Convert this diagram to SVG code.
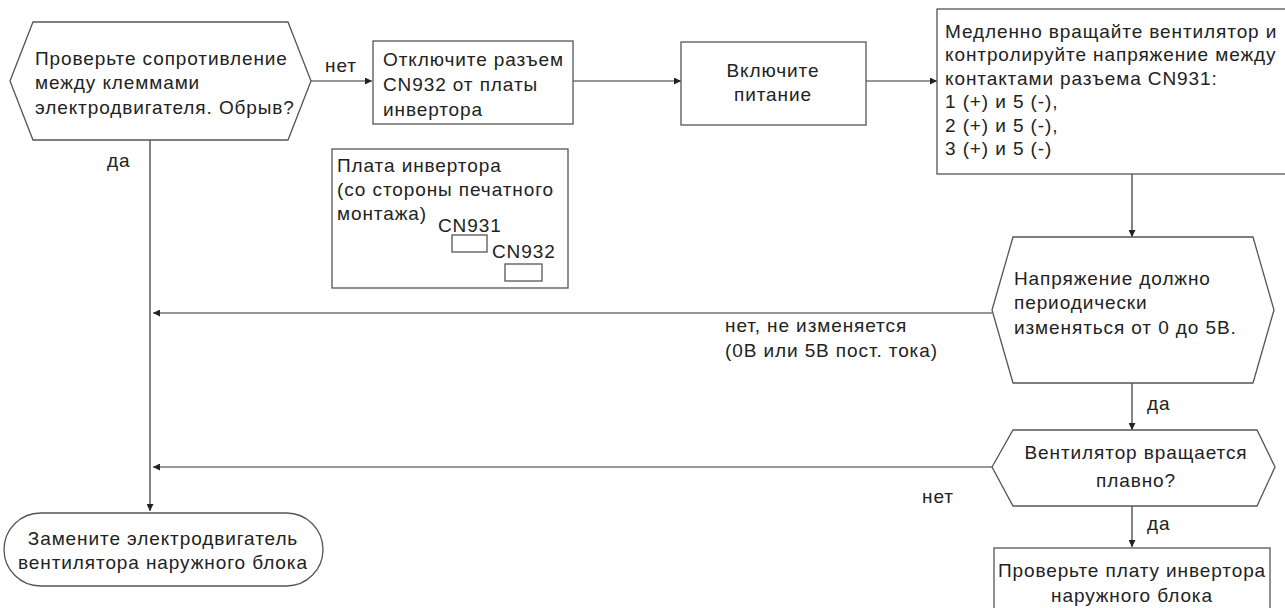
<svg xmlns="http://www.w3.org/2000/svg" width="1285" height="608" viewBox="0 0 1285 608">
<style>
text{font-family:"Liberation Sans",Arial,sans-serif;font-size:19px;letter-spacing:0.9px;fill:#222}
.s{fill:#fff;stroke:#555;stroke-width:1.3}
.c{fill:none;stroke:#333;stroke-width:1.2}
.m{text-anchor:middle}
</style>
<defs>
<marker id="a" viewBox="0 0 10 10" refX="10" refY="5" markerWidth="9" markerHeight="7" markerUnits="userSpaceOnUse" orient="auto"><path d="M0,0L10,5L0,10z" fill="#222"/></marker>
</defs>
<rect width="1285" height="608" fill="#fff"/>
<g id="connectors">
<path class="c" d="M311,81H372" marker-end="url(#a)"/>
<path class="c" d="M573,81H681" marker-end="url(#a)"/>
<path class="c" d="M866,81H937" marker-end="url(#a)"/>
<path class="c" d="M1132,174V237" marker-end="url(#a)"/>
<path class="c" d="M992,313H153" marker-end="url(#a)"/>
<path class="c" d="M1132,383V430" marker-end="url(#a)"/>
<path class="c" d="M992,467H153" marker-end="url(#a)"/>
<path class="c" d="M1132,506V547" marker-end="url(#a)"/>
<path class="c" d="M150,140V511" marker-end="url(#a)"/>
<text x="325" y="72">нет</text>
<text x="107" y="167">да</text>
<text x="725" y="332">нет, не изменяется</text>
<text x="725" y="357">(0В или 5В пост. тока)</text>
<text x="1147" y="410">да</text>
<text x="922" y="503">нет</text>
<text x="1147" y="530">да</text>
</g>
<g id="n1">
<polygon class="s" points="10,81 33,22 288,22 311,81 288,140 33,140"/>
<text x="35" y="65">Проверьте сопротивление</text>
<text x="35" y="89">между клеммами</text>
<text x="35" y="114">электродвигателя. Обрыв?</text>
</g>
<g id="n2">
<rect class="s" x="373" y="41" width="200" height="83"/>
<text x="383" y="66">Отключите разъем</text>
<text x="383" y="91">CN932 от платы</text>
<text x="383" y="116">инвертора</text>
</g>
<g id="n3">
<rect class="s" x="681" y="42" width="185" height="83"/>
<text class="m" x="773" y="77">Включите</text>
<text class="m" x="773" y="101">питание</text>
</g>
<g id="n4">
<rect class="s" x="937" y="9" width="360" height="165"/>
<text x="945" y="38">Медленно вращайте вентилятор и</text>
<text x="945" y="61">контролируйте напряжение между</text>
<text x="945" y="85">контактами разъема CN931:</text>
<text x="945" y="108">1 (+) и 5 (-),</text>
<text x="945" y="132">2 (+) и 5 (-),</text>
<text x="945" y="155">3 (+) и 5 (-)</text>
</g>
<g id="inset">
<rect class="s" x="332" y="149" width="236" height="139"/>
<text x="337" y="172">Плата инвертора</text>
<text x="337" y="196">(со стороны печатного</text>
<text x="337" y="220">монтажа)</text>
<text x="438" y="232">CN931</text>
<rect class="s" x="452" y="235" width="35" height="17"/>
<text x="492" y="258">CN932</text>
<rect class="s" x="505" y="264" width="37" height="17"/>
</g>
<g id="n5">
<polygon class="s" points="992,310 1013,237 1253,237 1274,310 1253,383 1013,383"/>
<text x="1014" y="285">Напряжение должно</text>
<text x="1014" y="309">периодически</text>
<text x="1014" y="334">изменяться от 0 до 5В.</text>
</g>
<g id="n6">
<polygon class="s" points="992,467 1013,430 1257,430 1275,467 1257,506 1013,506"/>
<text class="m" x="1136" y="459">Вентилятор вращается</text>
<text class="m" x="1136" y="487">плавно?</text>
</g>
<g id="n7">
<rect class="s" x="994" y="548" width="276" height="70"/>
<text class="m" x="1132" y="577">Проверьте плату инвертора</text>
<text class="m" x="1132" y="602">наружного блока</text>
</g>
<g id="n8">
<rect class="s" x="4" y="513" width="319" height="73" rx="36.5"/>
<text class="m" x="163" y="545">Замените электродвигатель</text>
<text class="m" x="163" y="569">вентилятора наружного блока</text>
</g>
</svg>
